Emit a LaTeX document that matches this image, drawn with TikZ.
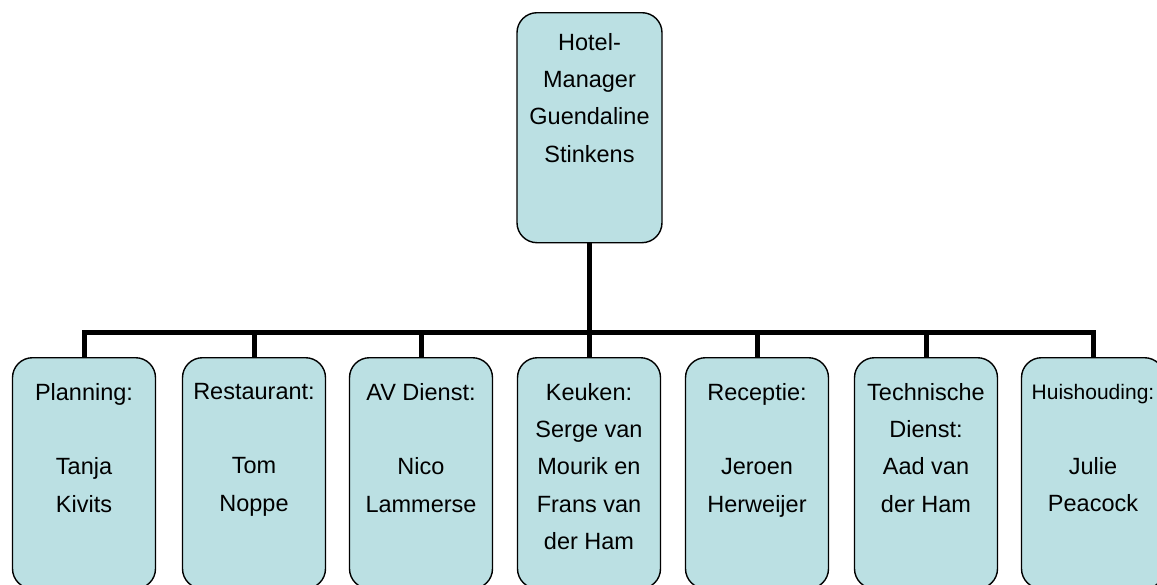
\documentclass[tikz,border=0pt]{standalone}
\usepackage{fontspec}
\setmainfont{Liberation Sans}
\definecolor{boxfill}{RGB}{187,224,227}
\begin{document}
\begin{tikzpicture}[x=1pt,y=-1pt,
  box/.style={draw=black,line width=1.4pt,fill=boxfill,rounded corners=20pt,inner sep=0pt},
  topbox/.style={box,minimum width=145pt,minimum height=230pt},
  subbox/.style={box,minimum width=143pt,minimum height=231pt},
  lbl/.style={anchor=north,inner sep=0pt,align=center,font={\fontsize{23.5}{37.3}\selectfont}},
  small/.style={font={\fontsize{21}{37.3}\selectfont}},
  conn/.style={line width=5pt,draw=black}]
\useasboundingbox (0,0) rectangle (1157,584);
\clip (0,0) rectangle (1157,584);
% top box
\node[topbox,anchor=north] (top) at (589.5,12) {};
\node[lbl] (ttop) at ([yshift=-21pt]top.north) {Hotel-\\Manager\\Guendaline\\Stinkens};
% sub boxes
\foreach \n/\x in {b1/84,b2/254,b3/421,b4/589,b5/757,b6/926,b7/1093}{
  \node[subbox,anchor=north] (\n) at (\x,357) {};
}
\coordinate (bar) at (589.5,332);
\draw[conn] (top.south) -- (bar);
\foreach \n in {b1,b2,b3,b4,b5,b6,b7}{
  \draw[conn] (bar) -| (\n.north);
}
\node[lbl] (t1) at ([yshift=-26pt]b1.north) {Planning:\\\mbox{}\\Tanja\\Kivits};
\node[lbl] (t2) at ([yshift=-26pt]b2.north) {Restaurant:\\\mbox{}\\Tom\\Noppe};
\node[lbl] (t3) at ([yshift=-26pt]b3.north) {AV Dienst:\\\mbox{}\\Nico\\Lammerse};
\node[lbl] (t4) at ([yshift=-26pt]b4.north) {Keuken:\\Serge van\\Mourik en\\Frans van\\der Ham};
\node[lbl] (t5) at ([yshift=-26pt]b5.north) {Receptie:\\\mbox{}\\Jeroen\\Herweijer};
\node[lbl] (t6) at ([yshift=-26pt]b6.north) {Technische\\Dienst:\\Aad van\\der Ham};
\node[lbl,small] (t7) at ([yshift=-27pt]b7.north) {Huishouding:\\\mbox{}\\\fontsize{23.5}{37.3}\selectfont Julie\\\fontsize{23.5}{37.3}\selectfont Peacock};
\end{tikzpicture}
\end{document}
